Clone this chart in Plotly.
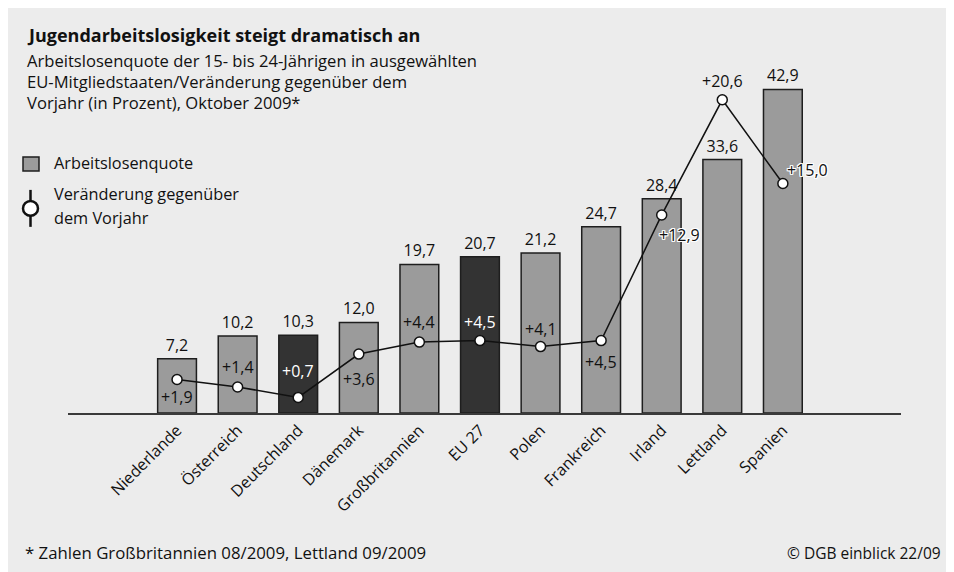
import plotly.graph_objects as go

# ---------------- data ----------------
countries = ["Niederlande", "Österreich", "Deutschland", "Dänemark", "Großbritannien",
             "EU 27", "Polen", "Frankreich", "Irland", "Lettland", "Spanien"]
quote = [7.2, 10.2, 10.3, 12.0, 19.7, 20.7, 21.2, 24.7, 28.4, 33.6, 42.9]
change = [1.9, 1.4, 0.7, 3.6, 4.4, 4.5, 4.1, 4.5, 12.9, 20.6, 15.0]
highlight = ["Deutschland", "EU 27"]

title = "Jugendarbeitslosigkeit steigt dramatisch an"
subtitle = ["Arbeitslosenquote der 15- bis 24-Jährigen in ausgewählten",
            "EU-Mitgliedstaaten/Veränderung gegenüber dem",
            "Vorjahr (in Prozent), Oktober 2009*"]
legend_bar = "Arbeitslosenquote"
legend_line = ["Veränderung gegenüber", "dem Vorjahr"]
footnote = "* Zahlen Großbritannien 08/2009, Lettland 09/2009"
source = "© DGB einblick 22/09"

# ---------------- style ----------------
FONT = "Open Sans"
W, H = 954, 572
L, R, T, B = 60, 61, 62, 166.7
PW, PH = W - L - R, H - T - B
BG = "#ececec"
GRAY = "#9b9b9b"
DARK = "#333333"
EDGE = "#1e1e1e"
TXT = "#111111"
Y1_PX = 7.55            # px per unit, bars
Y2_PX, Y2_ZERO = 14.97, 400.2   # px per unit and zero position, line

# label offsets (px) for change labels: (xshift, yshift, halo)
lab_off = [(0, -18, False), (0, 20, False), (0, 26, False), (0, -25, False),
           (0, 20, False), (0, 19, False), (0, 18, False), (0, -21, False),
           (18, -20, True), (0, 19, False), (25, 14, True)]


def px(x):
    return (x - L) / PW


def py(y):
    return (H - B - y) / PH


bar_colors = [DARK if c in highlight else GRAY for c in countries]

fig = go.Figure()
fig.add_trace(go.Bar(
    x=countries, y=quote, width=0.64,
    marker=dict(color=bar_colors, line=dict(color=EDGE, width=1.5)),
    text=[f"{v:.1f}".replace(".", ",") for v in quote],
    textposition="outside", cliponaxis=False,
    textfont=dict(family=FONT, size=16, color=TXT),
    hoverinfo="skip", showlegend=False,
))
fig.add_trace(go.Scatter(
    x=countries, y=change, yaxis="y2", mode="lines+markers",
    line=dict(color="#111111", width=1.5),
    marker=dict(size=10, color="white", line=dict(color="#111111", width=1.5)),
    cliponaxis=False, hoverinfo="skip", showlegend=False,
))

HALO = ", ".join(f"{a}px {b}px 0 #fff" for a in (-1, 0, 1) for b in (-1, 0, 1) if a or b)

annotations = []
for c, v, (dx, dy, halo), col in zip(countries, change, lab_off, bar_colors):
    white = (col == DARK)
    f = dict(family=FONT, size=16, color="white" if white else TXT)
    if halo:
        f["shadow"] = HALO
    annotations.append(dict(
        x=c, y=v, xref="x", yref="y2", text=f"+{v:.1f}".replace(".", ","),
        showarrow=False, xshift=dx, yshift=dy, font=f,
        xanchor="center", yanchor="middle"))

# title block
annotations.append(dict(x=px(17), y=py(27), xref="paper", yref="paper", xanchor="left",
                        yanchor="middle", showarrow=False, text=f"<b>{title}</b>",
                        font=dict(family=FONT, size=18, color=TXT)))
for i, s in enumerate(subtitle):
    annotations.append(dict(x=px(17), y=py(52 + i * 21.5), xref="paper", yref="paper",
                            xanchor="left", yanchor="middle", showarrow=False, text=s,
                            font=dict(family=FONT, size=16.6, color=TXT)))
# legend texts
annotations.append(dict(x=px(44), y=py(155), xref="paper", yref="paper", xanchor="left",
                        yanchor="middle", showarrow=False, text=legend_bar,
                        font=dict(family=FONT, size=16.3, color=TXT)))
for i, s in enumerate(legend_line):
    annotations.append(dict(x=px(44), y=py(186 + i * 24.5), xref="paper", yref="paper",
                            xanchor="left", yanchor="middle", showarrow=False, text=s,
                            font=dict(family=FONT, size=16.3, color=TXT)))
# footer
annotations.append(dict(x=px(15), y=py(545), xref="paper", yref="paper", xanchor="left",
                        yanchor="middle", showarrow=False, text=footnote,
                        font=dict(family=FONT, size=16.8, color=TXT)))
annotations.append(dict(x=px(935), y=py(545), xref="paper", yref="paper", xanchor="right",
                        yanchor="middle", showarrow=False, text=source,
                        font=dict(family=FONT, size=15.5, color=TXT)))

shapes = [
    dict(type="rect", xref="paper", yref="paper", x0=px(15), x1=px(31), y0=py(149), y1=py(163),
         fillcolor=GRAY, line=dict(color=EDGE, width=1.5)),
    dict(type="line", xref="paper", yref="paper", x0=px(22.5), x1=px(22.5), y0=py(182), y1=py(219),
         line=dict(color="#111111", width=2.5)),
    dict(type="circle", xref="paper", yref="paper", x0=px(15), x1=px(30), y0=py(193), y1=py(208),
         fillcolor="white", line=dict(color="#111111", width=2.5)),
]

fig.update_layout(
    width=W, height=H, margin=dict(l=L, r=R, t=T, b=B, autoexpand=False),
    paper_bgcolor=BG, plot_bgcolor="rgba(0,0,0,0)",
    separators=",.",
    font=dict(family=FONT, size=15, color=TXT),
    xaxis=dict(type="category", range=[-1.8, 11.95], showline=True, linecolor="#3a3a3a",
               linewidth=1.5, ticks="", tickangle=-45, showgrid=False, zeroline=False,
               tickfont=dict(family=FONT, size=16, color=TXT), fixedrange=True),
    yaxis=dict(range=[0, PH / Y1_PX], visible=False, showgrid=False, zeroline=False),
    yaxis2=dict(range=[(Y2_ZERO - (H - B)) / Y2_PX, (Y2_ZERO - T) / Y2_PX], overlaying="y",
                visible=False, showgrid=False, zeroline=False),
    annotations=annotations, shapes=shapes, showlegend=False,
)

fig.write_html("out.html")
